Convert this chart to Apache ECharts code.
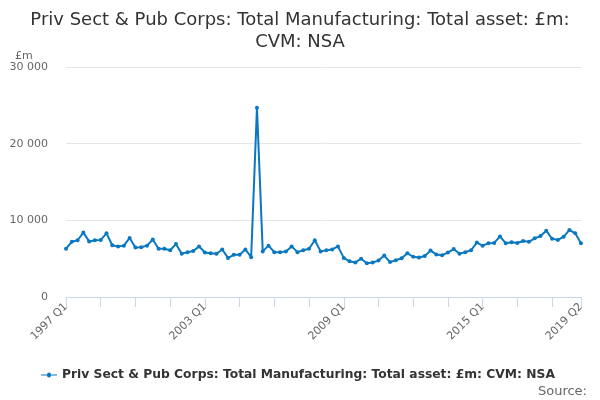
<!DOCTYPE html>
<html>
<head>
    <meta charset="utf-8">
    <title></title>
    <script src="https://cdn.jsdelivr.net/npm/echarts@6/dist/echarts.min.js" type="text/javascript"></script>
    <style>
        html, body { margin: 0; padding: 0; background: #fff; }
    </style>
</head>
<body>
    <div id="chartDiv" style="width:600px;height:400px;"></div>
</body>
<script type="text/javascript" charset="utf-8">
    var seriesName = 'Priv Sect & Pub Corps: Total Manufacturing: Total asset: £m: CVM: NSA';

    // quarters 1997 Q1 .. 2019 Q2
    var firstYear = 1997;
    var quarterCount = 90;
    var quarters = [];
    for (var i = 0; i < quarterCount; i++) {
        quarters.push((firstYear + Math.floor(i / 4)) + ' Q' + (i % 4 + 1));
    }

    // £m
    var assetValues = [
        6300, 7200, 7400, 8400, 7250, 7400, 7450, 8300, 6750, 6600,
        6700, 7700, 6450, 6500, 6700, 7500, 6300, 6300, 6100, 6900,
        5650, 5850, 6000, 6600, 5800, 5700, 5650, 6200, 5100, 5500,
        5500, 6200, 5200, 24700, 5950, 6700, 5850, 5850, 5950, 6600,
        5850, 6100, 6300, 7400, 5950, 6100, 6200, 6600, 5100, 4650,
        4500, 5000, 4400, 4500, 4750, 5400, 4550, 4800, 5050, 5700,
        5250, 5150, 5350, 6050, 5550, 5450, 5800, 6250, 5650, 5850,
        6100, 7100, 6700, 7000, 7050, 7900, 7000, 7150, 7050, 7300,
        7200, 7650, 7950, 8650, 7600, 7450, 7850, 8750, 8300, 7000
    ];

    var yTicks = [0, 10000, 20000, 30000];

    var chart = echarts.init(document.getElementById('chartDiv'));
    var option = {
        animation: false,
        textStyle: { fontFamily: 'DejaVu Sans' },
        title: [{
            text: 'Priv Sect & Pub Corps: Total Manufacturing: Total asset: £m:\nCVM: NSA',
            left: 'center',
            top: 4,
            textStyle: { fontSize: 18, fontWeight: 'normal', color: '#333', lineHeight: 22 }
        }, {
            text: '£m',
            left: 10,
            top: 46,
            textStyle: { fontSize: 11, fontWeight: 'normal', color: '#666' }
        }, {
            text: 'Source:',
            right: 8,
            top: 380,
            textStyle: { fontSize: 13, fontWeight: 'normal', color: '#666' }
        }],
        legend: {
            bottom: 14,
            left: 36,
            itemWidth: 16,
            itemHeight: 8,
            itemGap: 6,
            icon: 'path://M0,3.4L6,3.4A2,2 0 1 1 10,3.4L16,3.4L16,4.6L10,4.6A2,2 0 1 1 6,4.6L0,4.6Z',
            textStyle: { fontSize: 12.3, fontWeight: 'bold', color: '#333' },
            data: [seriesName]
        },
        grid: { left: 66, right: 19, top: 67, bottom: 103, containLabel: false },
        xAxis: {
            type: 'category',
            data: quarters,
            boundaryGap: false,
            axisLine: { lineStyle: { color: '#ccd6eb' } },
            axisTick: {
                length: 10,
                lineStyle: { color: '#ccd6eb' },
                interval: function (index) { return index % 6 === 0 || index === quarterCount - 1; }
            },
            axisLabel: {
                rotate: 45,
                color: '#666',
                fontSize: 11,
                margin: 8,
                interval: function (index) { return index % 24 === 0 || index === quarterCount - 1; }
            },
            splitLine: { show: false }
        },
        yAxis: {
            type: 'value',
            min: yTicks[0],
            max: yTicks[yTicks.length - 1],
            interval: 10000,
            axisLine: { show: false },
            axisTick: { show: false },
            axisLabel: {
                color: '#666',
                fontSize: 11,
                margin: 18,
                formatter: function (v) { return String(v).replace(/\B(?=(\d{3})+(?!\d))/g, ' '); }
            },
            splitLine: { lineStyle: { color: '#e6e6e6' } }
        },
        series: [{
            name: seriesName,
            type: 'line',
            data: assetValues,
            color: '#0a78c0',
            symbol: 'circle',
            symbolSize: 4,
            showSymbol: true,
            showAllSymbol: true,
            lineStyle: { width: 2 }
        }]
    };
    chart.setOption(option);
</script>
</html>
